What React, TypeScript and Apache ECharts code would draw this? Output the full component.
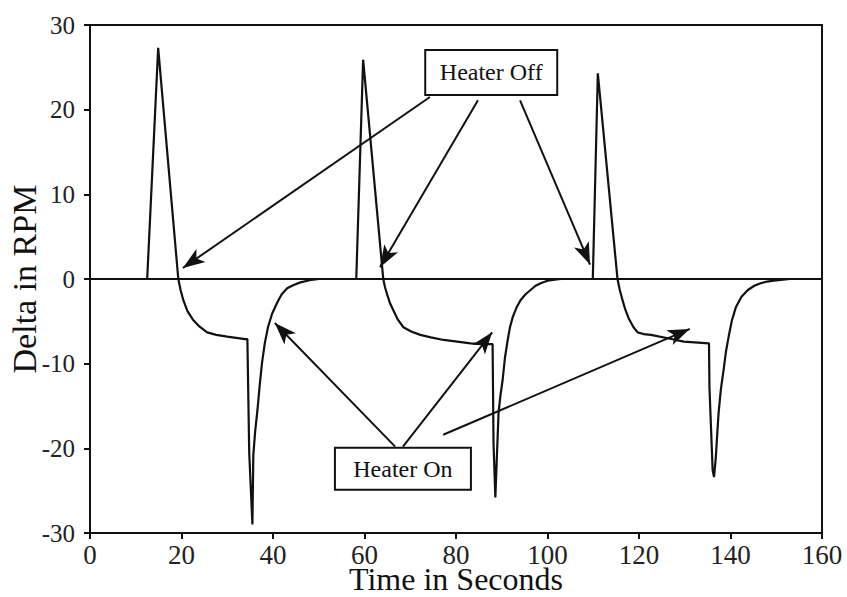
import React, { useEffect, useRef } from "react";
import * as echarts from "echarts";

// Time (s) and Delta RPM
const timeSeconds = [
  0, 12.5, 14.9, 19.3, 19.8, 20.4, 21.3, 22.5, 23.9, 25.6, 27.6, 30.0, 33.9, 34.4, 34.8, 35.5, 35.7, 36.1, 36.6, 37.1, 37.6, 38.2, 38.9, 39.8, 40.9, 41.9, 43.1, 44.5, 46.0, 48.0, 50.0,
  58.2, 59.7, 64.1, 64.5, 65.0, 65.6, 66.3, 67.3, 68.5, 70.2, 72.2, 74.5, 77.3, 83.2, 87.1, 88.0, 88.2, 88.6, 89.3, 89.7, 90.2, 90.7, 91.3, 91.8, 92.4, 93.2, 94.1, 95.2, 96.3, 97.4, 98.5, 100.0, 102.0, 103.0,
  109.9, 111.0, 115.3, 115.8, 116.4, 117.0, 117.7, 118.8, 119.7, 121.0, 122.6, 126.3, 129.8, 135.3, 135.4, 136.1, 136.4, 136.8, 137.1, 137.4, 137.9, 138.5, 139.0, 139.6, 140.3, 141.2, 142.4, 143.8, 145.2, 146.6, 148.0, 149.5, 152.0, 153.0, 160.0,
];
const deltaRpm = [
  0, 0, 27.3, 0, -1.3, -2.5, -3.8, -4.8, -5.6, -6.3, -6.6, -6.8, -7.1, -7.1, -20.5, -29.0, -20.8, -18.0, -15.5, -12.5, -9.9, -7.6, -5.7, -4.1, -2.8, -1.8, -1.1, -0.7, -0.4, -0.15, 0,
  0, 25.9, 0, -1.0, -1.9, -2.9, -3.7, -4.8, -5.7, -6.2, -6.6, -6.9, -7.2, -7.6, -7.7, -7.7, -19.4, -25.8, -15.8, -13.8, -11.9, -9.3, -7.2, -5.7, -4.5, -3.4, -2.5, -1.8, -1.3, -0.8, -0.5, -0.2, -0.05, 0,
  0, 24.3, 0, -1.3, -2.5, -3.6, -4.6, -5.7, -6.3, -6.5, -6.6, -7.0, -7.4, -7.6, -12.8, -22.6, -23.4, -21.0, -18.3, -15.8, -13.0, -10.7, -8.6, -6.8, -4.9, -3.3, -2.1, -1.3, -0.8, -0.5, -0.3, -0.2, -0.05, 0, 0,
];

const xTicks = { min: 0, max: 160, interval: 20 };
const yTicks = { min: -30, max: 30, interval: 10 };

// Annotation boxes (label, [time, rpm] centre)
const boxLabels = ["Heater Off", "Heater On"];
const boxCenters = [
  [87.7, 24.4],
  [68.4, -22.4],
];

// Arrows: start and tip in data coordinates
const arrowStarts = [
  [74.3, 21.5],
  [84.8, 21.1],
  [94.0, 21.1],
  [66.7, -19.8],
  [68.4, -19.8],
  [77.2, -18.4],
];
const arrowTips = [
  [20.3, 1.3],
  [63.4, 1.4],
  [109.3, 1.7],
  [40.4, -5.2],
  [87.9, -6.3],
  [131.1, -5.9],
];

const FONT = "'Liberation Serif', 'Times New Roman', serif";

export default function App() {
  const ref = useRef<HTMLDivElement>(null);

  useEffect(() => {
    if (!ref.current) return;
    const chart = echarts.init(ref.current, null, { renderer: "svg" });
    const traceData = timeSeconds.map((t, i) => [t, deltaRpm[i]]);

    chart.setOption({
      animation: false,
      backgroundColor: "#fff",
      textStyle: { fontFamily: FONT },
      grid: {
        left: 90,
        right: 25,
        top: 25,
        bottom: 64,
        show: true,
        borderColor: "#111",
        borderWidth: 2,
        backgroundColor: "transparent",
        outerBoundsMode: "none",
      },
      xAxis: {
        type: "value",
        min: xTicks.min,
        max: xTicks.max,
        interval: xTicks.interval,
        name: "Time in Seconds",
        nameLocation: "middle",
        nameGap: 33,
        nameMoveOverlap: false,
        nameTextStyle: { fontFamily: FONT, fontSize: 32, color: "#111", lineHeight: 26 },
        axisLine: { show: true, onZero: false, lineStyle: { color: "#111", width: 2 } },
        axisTick: { show: true, inside: false, length: 6, lineStyle: { color: "#111", width: 2 } },
        axisLabel: { fontFamily: FONT, fontSize: 27, color: "#222", margin: 11, lineHeight: 22 },
        splitLine: { show: false },
      },
      yAxis: {
        type: "value",
        min: yTicks.min,
        max: yTicks.max,
        interval: yTicks.interval,
        name: "Delta in RPM",
        nameLocation: "middle",
        nameRotate: 90,
        nameGap: 49,
        nameMoveOverlap: false,
        nameTextStyle: { fontFamily: FONT, fontSize: 34, color: "#111" },
        axisLine: { show: true, onZero: false, lineStyle: { color: "#111", width: 2 } },
        axisTick: { show: true, inside: false, length: 6, lineStyle: { color: "#111", width: 2 } },
        axisLabel: { fontFamily: FONT, fontSize: 25, color: "#222", margin: 15 },
        splitLine: { show: false },
      },
      series: [
        {
          name: "zero",
          type: "line",
          data: [
            [xTicks.min, 0],
            [xTicks.max, 0],
          ],
          symbol: "none",
          silent: true,
          lineStyle: { color: "#111", width: 2 },
          z: 1,
        },
        {
          name: "Delta RPM",
          type: "line",
          data: traceData,
          symbol: "none",
          silent: true,
          lineStyle: { color: "#111", width: 2.2 },
          z: 2,
          markLine: {
            silent: true,
            symbol: ["none", "arrow"],
            symbolSize: [12, 22],
            lineStyle: { color: "#111", width: 2, type: "solid" },
            label: { show: false },
            emphasis: { disabled: true },
            data: arrowStarts.map((s, i) => [{ coord: s }, { coord: arrowTips[i] }]),
          },
          markPoint: {
            silent: true,
            symbol: "circle",
            symbolSize: 0,
            itemStyle: { color: "transparent" },
            label: {
              show: true,
              position: "inside",
              color: "#111",
              fontFamily: FONT,
              fontSize: 24,
              backgroundColor: "#fff",
              borderColor: "#111",
              borderWidth: 2,
              align: "center",
              verticalAlign: "middle",
              padding: 0,
              formatter: (p: any) => p.name,
            },
            data: boxLabels.map((name, i) => ({
              name,
              coord: boxCenters[i],
              label: {
                width: i === 0 ? 130 : 134,
                height: i === 0 ? 43 : 40,
                lineHeight: i === 0 ? 43 : 40,
              },
            })),
          },
        },
      ],
    });

    return () => chart.dispose();
  }, []);

  return (
    <div
      ref={ref}
      style={{ position: "fixed", left: 0, top: 0, width: 847, height: 597, background: "#fff" }}
    />
  );
}
